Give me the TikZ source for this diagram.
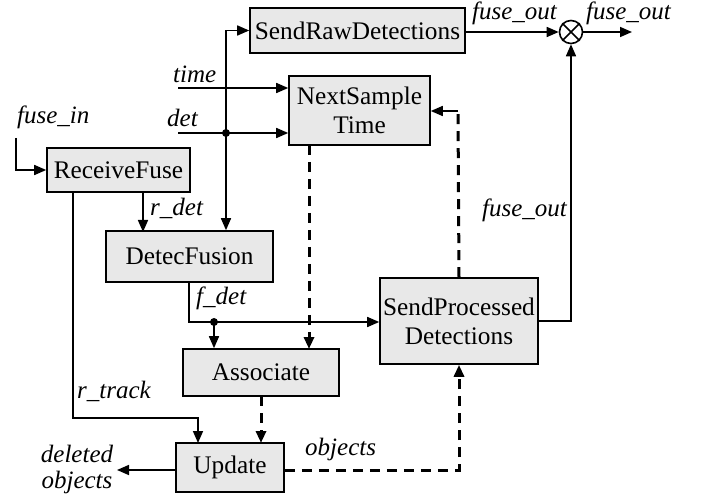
\documentclass[tikz,border=0pt]{standalone}
\usepackage{fontspec}
\setmainfont{Liberation Serif}
\usetikzlibrary{arrows.meta}
\begin{document}
\begin{tikzpicture}[x=1pt,y=-1pt,
  box/.style={draw, line width=1.6pt, fill=black!9, inner sep=0pt, align=center,
    font=\fontsize{25.3}{29}\selectfont},
  lab/.style={font=\fontsize{25}{29}\selectfont\itshape, inner sep=0pt, align=left},
  conn/.style={line width=1.6pt, -{Triangle[length=12pt,width=10pt]}},
  plain/.style={line width=1.6pt},
  dconn/.style={line width=3pt, dash pattern=on 10pt off 7pt, -{Triangle[length=12pt,width=10pt]}},
  dplain/.style={line width=3pt, dash pattern=on 10pt off 7pt},
  dot/.style={circle, fill=black, inner sep=0pt, minimum size=8pt}]
\useasboundingbox (0,0) rectangle (702,497);
% boxes
\node[box, minimum width=215pt, minimum height=45pt] (raw) at (357.5,30.5) {SendRawDetections};
\node[box, minimum width=141pt, minimum height=69pt] (nst) at (359.5,110.5) {NextSample\\Time};
\node[box, minimum width=143pt, minimum height=44pt] (rf) at (118.5,170) {ReceiveFuse};
\node[box, minimum width=167pt, minimum height=51pt] (df) at (189.5,256.5) {DetecFusion};
\node[box, minimum width=156pt, minimum height=47pt] (as) at (261,372.5) {Associate};
\node[box, minimum width=108pt, minimum height=49pt] (up) at (230,467.5) {Update};
\node[box, minimum width=158pt, minimum height=86pt] (sp) at (459,321) {SendProcessed\\Detections};
\node[draw, circle, line width=1.6pt, minimum size=23pt, inner sep=0pt] (cx) at (571,32) {};
\draw[line width=1.6pt] (cx.north east) -- (cx.south west) (cx.north west) -- (cx.south east);
% coordinates
\coordinate (timein) at (178,88);
\coordinate (detin) at (178,133);
\coordinate (fin) at (16,138);
\coordinate (delout) at (117,470);
\coordinate (fout) at (632,32);
\node[dot] (jd) at (226,133) {};
\node[dot] (jf) at (214,322) {};
% inputs
\draw[conn] (timein) -- (timein -| nst.west);
\draw[conn] (detin) -- (detin -| nst.west);
\draw[conn] (fin) |- (rf.west);
\draw[conn] (jd.center) |- (raw.west);
\draw[conn] (jd.center) -- (jd.center |- df.north);
% receive fuse
\draw[conn] (143,192) -- (143,232);
\draw[conn] (73,192) |- (198,418) -- (198,443);
% detec fusion
\draw[plain] (189,282) |- (jf.center);
\draw[conn] (jf.center) -- (sp.west |- jf.center);
\draw[conn] (jf.center) -- (jf.center |- as.north);
% dashed
\draw[dconn] (309,145) -- (309,349);
\draw[dconn] (261,396) -- (261,443);
\draw[dconn] (up.east |- 0,470) -| (sp.south);
\draw[dplain] (sp.north) -- (458,111);
\draw[conn] (458,111) -- (nst.east |- 0,111);
% outputs
\draw[conn] (up.west |- delout) -- (delout);
\draw[conn] (raw.east |- cx) -- (cx.west);
\draw[conn] (cx.east) -- (fout);
\draw[conn] (sp.east) -| (cx.south);
% labels
\node[lab, anchor=base west] at (173,83) {time};
\node[lab, anchor=base west] at (167,127) {det};
\node[lab, anchor=base west] at (17,124) {fuse\_in};
\node[lab, anchor=base west] at (150,216) {r\_det};
\node[lab, anchor=base west] at (196,305) {f\_det};
\node[lab, anchor=base west] at (77,398) {r\_track};
\node[lab, anchor=base west] at (305,455) {objects};
\node[lab, anchor=base] at (77,462) {deleted};
\node[lab, anchor=base] at (77,488) {objects};
\node[lab, anchor=base west] at (472,20) {fuse\_out};
\node[lab, anchor=base west] at (586,20) {fuse\_out};
\node[lab, anchor=base west] at (482,217) {fuse\_out};
\end{tikzpicture}
\end{document}
